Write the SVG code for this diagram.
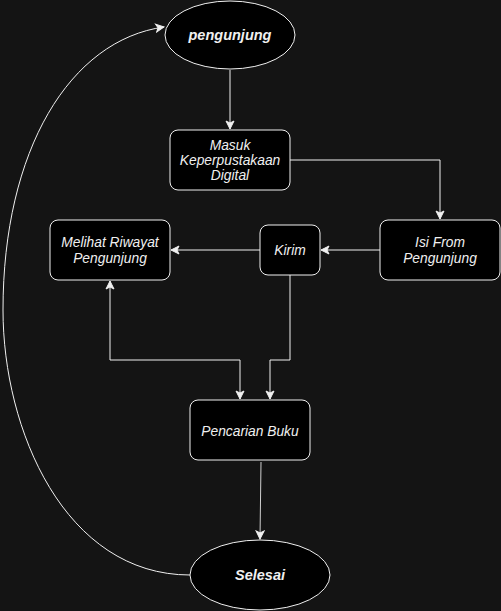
<svg xmlns="http://www.w3.org/2000/svg" width="501" height="611" viewBox="0 0 501 611">
<style>
.bg{fill:#141414}
.node{fill:#000;stroke:#f0f0f0;stroke-width:1}
.t{font-family:"Liberation Sans",Arial,sans-serif;font-size:13.8px;font-style:italic;fill:#f0f0f0;text-anchor:middle;dominant-baseline:central}
.tb{font-weight:bold;font-size:14.5px}
.edge{fill:none;stroke:#f0f0f0;stroke-width:1}
</style>
<defs>
<marker id="arr" markerUnits="userSpaceOnUse" markerWidth="10" markerHeight="10" viewBox="0 0 10 10" refX="9" refY="5" orient="auto">
<path d="M1,1 L9,5 L1,9 L3,5 z" fill="#f0f0f0" stroke="#f0f0f0" stroke-width="1"/>
</marker>
<marker id="arrs" markerUnits="userSpaceOnUse" markerWidth="10" markerHeight="10" viewBox="0 0 10 10" refX="9" refY="5" orient="auto-start-reverse">
<path d="M1,1 L9,5 L1,9 L3,5 z" fill="#f0f0f0" stroke="#f0f0f0" stroke-width="1"/>
</marker>
</defs>
<rect class="bg" x="0" y="0" width="501" height="611"/>
<g id="connectors">
<path class="edge" d="M230,70 L230,129" marker-end="url(#arr)"/>
<path class="edge" d="M290,160 L440,160 L440,219" marker-end="url(#arr)"/>
<path class="edge" d="M380,250 L321,250" marker-end="url(#arr)"/>
<path class="edge" d="M260,250 L171,250" marker-end="url(#arr)"/>
<path class="edge" d="M290,275 L290,360 L270,360 L270,399" marker-end="url(#arr)"/>
<path class="edge" d="M110,281 L110,360 L240,360 L240,399" marker-start="url(#arrs)" marker-end="url(#arr)"/>
<path class="edge" d="M261,462 L260,539" style="stroke:#cfcfcf" marker-end="url(#arr)"/>
<path class="edge" d="M190,575 C65,575 3,430 3,310 C3,150 70,40 164,27" marker-end="url(#arr)"/>
</g>
<g id="pengunjung">
<ellipse class="node" cx="230" cy="35" rx="65" ry="34"/>
<text class="t tb" x="230" y="35">pengunjung</text>
</g>
<g id="masuk">
<rect class="node" x="170" y="130" width="120" height="60" rx="8"/>
<text class="t" x="230" y="145">Masuk</text>
<text class="t" x="230" y="160">Keperpustakaan</text>
<text class="t" x="230" y="175">Digital</text>
</g>
<g id="isi">
<rect class="node" x="380" y="220" width="120" height="60" rx="8"/>
<text class="t" x="440" y="242">Isi From</text>
<text class="t" x="440" y="258">Pengunjung</text>
</g>
<g id="kirim">
<rect class="node" x="260" y="225" width="60" height="50" rx="8"/>
<text class="t" x="290" y="250">Kirim</text>
</g>
<g id="melihat">
<rect class="node" x="50" y="220" width="120" height="60" rx="8"/>
<text class="t" x="110" y="242">Melihat Riwayat</text>
<text class="t" x="110" y="258">Pengunjung</text>
</g>
<g id="pencarian">
<rect class="node" x="190" y="400" width="120" height="60" rx="8"/>
<text class="t" x="250" y="431">Pencarian Buku</text>
</g>
<g id="selesai">
<ellipse class="node" cx="260" cy="575" rx="70" ry="35"/>
<text class="t tb" x="260" y="575">Selesai</text>
</g>
</svg>
